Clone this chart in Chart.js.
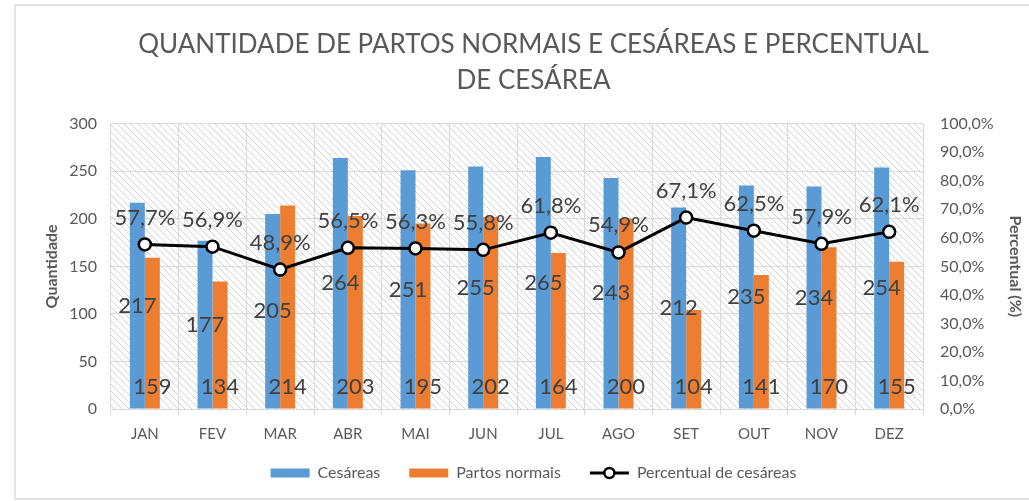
<!DOCTYPE html>
<html>
<head>
<meta charset="utf-8">
<script src="https://cdn.jsdelivr.net/npm/chart.js@4.4.1/dist/chart.umd.min.js"></script>
<style>
  body { margin: 0; background: #fff; }
  #wrap { position: relative; width: 1029px; height: 501px; overflow: hidden; }
  #frame { position: absolute; left: 14px; top: 4px; right: -10px; bottom: 1px; border: 2px solid #e3e3e3; }
  canvas { position: absolute; left: 0; top: 0; }
</style>
</head>
<body>
<div id="wrap">
  <div id="frame"></div>
  <canvas id="chart1" width="1029" height="501"></canvas>
</div>
<script>
const meses = ["JAN", "FEV", "MAR", "ABR", "MAI", "JUN", "JUL", "AGO", "SET", "OUT", "NOV", "DEZ"];
const cesareas = [217, 177, 205, 264, 251, 255, 265, 243, 212, 235, 234, 254];
const partosNormais = [159, 134, 214, 203, 195, 202, 164, 200, 104, 141, 170, 155];
const percentual = [57.7, 56.9, 48.9, 56.5, 56.3, 55.8, 61.8, 54.9, 67.1, 62.5, 57.9, 62.1];

const tituloLinhas = ["QUANTIDADE DE PARTOS NORMAIS E CESÁREAS E PERCENTUAL", "DE CESÁREA"];

function pct(v) {
  return v.toFixed(1).replace('.', ',') + '%';
}

// diagonal hatch for the plot area
function makeHatch() {
  const c = document.createElement('canvas');
  c.width = 7;
  c.height = 7;
  const g = c.getContext('2d');
  g.strokeStyle = '#d4d4d4';
  g.lineWidth = 1;
  g.beginPath();
  g.moveTo(-1, -1);
  g.lineTo(8, 8);
  g.moveTo(-1, 6);
  g.lineTo(1, 8);
  g.moveTo(6, -1);
  g.lineTo(8, 1);
  g.stroke();
  return g.createPattern(c, 'repeat');
}

const hatchPlugin = {
  id: 'hatch',
  beforeDraw(chart) {
    const a = chart.chartArea;
    const ctx = chart.ctx;
    ctx.save();
    ctx.fillStyle = makeHatch();
    ctx.fillRect(a.left, a.top, a.right - a.left, a.bottom - a.top);
    ctx.restore();
  }
};

const labelPlugin = {
  id: 'valueLabels',
  afterDatasetsDraw(chart) {
    const ctx = chart.ctx;
    ctx.save();
    ctx.font = '22px Lato';
    ctx.fillStyle = '#404040';
    ctx.textAlign = 'center';
    ctx.textBaseline = 'middle';
    chart.getDatasetMeta(0).data.forEach((el, i) => {
      ctx.fillText(cesareas[i], el.x, (el.y + el.base) / 2);
    });
    chart.getDatasetMeta(1).data.forEach((el, i) => {
      ctx.fillText(partosNormais[i], el.x, el.base - 22);
    });
    chart.getDatasetMeta(2).data.forEach((el, i) => {
      ctx.fillText(pct(percentual[i]), el.x, el.y - 27);
    });
    ctx.restore();
  }
};

// pull the legend a bit higher than chart.js puts it
const legendShift = {
  id: 'legendShift',
  afterLayout(chart) {
    chart.legend.top -= 10;
    chart.legend.bottom -= 10;
  }
};

// line + marker sample in the legend
const legendLinePlugin = {
  id: 'legendLine',
  afterDraw(chart) {
    const box = chart.legend.legendHitBoxes[2];
    if (!box) return;
    const ctx = chart.ctx;
    const y = box.top + box.height / 2;
    ctx.save();
    ctx.strokeStyle = '#000';
    ctx.lineWidth = 3;
    ctx.beginPath();
    ctx.moveTo(box.left, y);
    ctx.lineTo(box.left + 39, y);
    ctx.stroke();
    ctx.beginPath();
    ctx.arc(box.left + 19.5, y, 5, 0, Math.PI * 2);
    ctx.fillStyle = '#fff';
    ctx.fill();
    ctx.lineWidth = 2.5;
    ctx.stroke();
    ctx.restore();
  }
};

const ctx = document.getElementById('chart1').getContext('2d');
const myChart = new Chart(ctx, {
  data: {
    labels: meses,
    datasets: [
      {
        type: 'bar',
        label: 'Cesáreas',
        data: cesareas,
        backgroundColor: '#5B9BD5',
        yAxisID: 'y',
        order: 1,
        categoryPercentage: 0.443,
        barPercentage: 1,
      },
      {
        type: 'bar',
        label: 'Partos normais',
        data: partosNormais,
        backgroundColor: '#ED7D31',
        yAxisID: 'y',
        order: 1,
        categoryPercentage: 0.443,
        barPercentage: 1,
      },
      {
        type: 'line',
        label: 'Percentual de cesáreas',
        data: percentual,
        yAxisID: 'y1',
        order: 0,
        borderColor: '#000',
        borderWidth: 3,
        pointRadius: 6,
        pointHoverRadius: 6,
        pointBackgroundColor: '#fff',
        pointBorderColor: '#000',
        pointBorderWidth: 2.5,
        tension: 0,
      },
    ],
  },
  options: {
    responsive: false,
    animation: false,
    events: [],
    layout: { padding: { left: 38, right: 0, top: 0, bottom: 0 } },
    plugins: {
      title: {
        display: true,
        text: tituloLinhas,
        color: '#595959',
        font: { family: 'Lato', size: 26, weight: 'normal', lineHeight: 1.38 },
        padding: { top: 27, bottom: 25 },
      },
      legend: {
        position: 'bottom',
        labels: {
          color: '#595959',
          font: { family: 'Lato', size: 16 },
          boxWidth: 39,
          boxHeight: 9,
          padding: 29,
          generateLabels(chart) {
            const items = Chart.defaults.plugins.legend.labels.generateLabels(chart);
            items.sort((a, b) => a.datasetIndex - b.datasetIndex);
            items.forEach(item => {
              item.lineWidth = 0;
              item.strokeStyle = 'rgba(0,0,0,0)';
            });
            items[2].fillStyle = 'rgba(0,0,0,0)';
            return items;
          },
        },
      },
      tooltip: { enabled: false },
    },
    scales: {
      x: {
        grid: { color: '#d9d9d9', offset: true, tickLength: 6 },
        border: { color: '#d9d9d9' },
        ticks: { color: '#595959', font: { family: 'Lato', size: 15 }, padding: 10 },
        afterFit(scale) { scale.height = 37; },
      },
      y: {
        position: 'left',
        min: 0,
        max: 300,
        ticks: { stepSize: 50, color: '#595959', font: { family: 'Lato', size: 16 }, padding: 14 },
        grid: { color: '#d9d9d9', drawTicks: false },
        border: { display: false },
        title: { display: true, text: 'Quantidade', color: '#595959', font: { family: 'Lato', size: 16, weight: 'bold' } },
        afterFit(scale) { scale.width = 73; },
      },
      y1: {
        position: 'right',
        min: 0,
        max: 100,
        ticks: { stepSize: 10, color: '#595959', font: { family: 'Lato', size: 16 }, padding: 17, callback: v => pct(v) },
        grid: { display: false, drawTicks: false },
        border: { display: false },
        title: { display: true, text: 'Percentual (%)', color: '#595959', font: { family: 'Lato', size: 16, weight: 'bold' } },
        afterFit(scale) { scale.width = 106; },
      },
    },
  },
  plugins: [hatchPlugin, labelPlugin, legendShift, legendLinePlugin],
});
</script>
</body>
</html>
